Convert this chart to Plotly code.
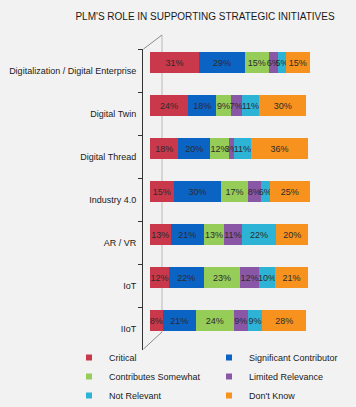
import plotly.graph_objects as go

categories = ["Digitalization / Digital Enterprise", "Digital Twin", "Digital Thread",
              "Industry 4.0", "AR / VR", "IoT", "IIoT"]
series_names = ["Critical", "Significant Contributor", "Contributes Somewhat",
                "Limited Relevance", "Not Relevant", "Don't Know"]
critical = [31, 24, 18, 15, 13, 12, 8]
significant = [29, 18, 20, 30, 21, 22, 21]
contributes = [15, 9, 12, 17, 13, 23, 24]
limited = [6, 7, 3, 8, 11, 12, 9]
not_relevant = [5, 11, 11, 6, 22, 10, 9]
dont_know = [15, 30, 36, 25, 20, 21, 28]
title_text = "PLM'S ROLE IN SUPPORTING STRATEGIC INITIATIVES"

series_values = [critical, significant, contributes, limited, not_relevant, dont_know]
colors = ["#c9384b", "#0b63c4", "#96cc58", "#8a56a6", "#2cb3d6", "#f7921e"]

W, H = 356, 407
T = 49
PH = H - T            # paper height (no bottom/left/right margin)
AX_L, AX_R = 143, 323  # plot-area x in px
AX_B = 350             # plot-area bottom in px


def px_x(p):
    return p / W


def px_y(p):
    return (H - p) / PH


fig = go.Figure()
for name, vals, col in zip(series_names, series_values, colors):
    fig.add_trace(go.Bar(
        y=categories, x=vals, orientation="h", name=name,
        marker=dict(color=col, line=dict(width=0)),
        width=0.49, offset=-0.43,
        text=[f"{v}%" for v in vals], textposition="inside",
        insidetextanchor="middle", textangle=0,
        textfont=dict(family="Liberation Sans, Arial", size=9, color="#2b2b2b"),
        showlegend=False, hoverinfo="x+y+name",
    ))
    fig.add_trace(go.Scatter(
        x=[None], y=[None], mode="markers", name=name,
        marker=dict(symbol="square", size=6, color=col),
        showlegend=True,
    ))

shapes = [
    dict(type="line", xref="paper", yref="paper", x0=px_x(162), x1=px_x(162),
         y0=px_y(35), y1=px_y(332), line=dict(color="#b8b8b8", width=1), layer="below"),
    dict(type="line", xref="paper", yref="paper", x0=px_x(143.5), x1=px_x(162),
         y0=px_y(49), y1=px_y(35), line=dict(color="#8c8c8c", width=1), layer="below"),
    dict(type="line", xref="paper", yref="paper", x0=px_x(143.5), x1=px_x(162),
         y0=px_y(349), y1=px_y(332), line=dict(color="#8c8c8c", width=1), layer="below"),
]

fig.update_layout(
    width=W, height=H,
    margin=dict(l=0, r=0, t=T, b=0, autoexpand=False),
    paper_bgcolor="#f2f2f2", plot_bgcolor="#f2f2f2",
    barmode="stack",
    font=dict(family="Liberation Sans, Arial", color="#1a1a1a", size=9),
    title=dict(text=title_text, x=205 / W, xref="container", xanchor="center",
               y=1 - 16 / H, yref="container", yanchor="middle",
               font=dict(size=10, color="#1a1a1a")),
    xaxis=dict(domain=[AX_L / W, AX_R / W],
               range=[-(150 - AX_L) / 1.58, (AX_R - 150) / 1.58],
               showgrid=False, zeroline=False,
               showticklabels=False, showline=False, fixedrange=True),
    yaxis=dict(domain=[px_y(AX_B), 1], autorange="reversed", type="category",
               showgrid=False, zeroline=False,
               showline=True, linecolor="#333333", linewidth=1,
               ticks="outside", ticklen=4, tickcolor="#333333", tickson="boundaries",
               ticklabelstandoff=4,
               tickfont=dict(size=9, color="#1a1a1a"), fixedrange=True),
    legend=dict(orientation="h", x=px_x(69), xanchor="left", y=px_y(343), yanchor="top",
                entrywidth=95, entrywidthmode="pixels", itemwidth=30,
                font=dict(size=9, color="#1a1a1a"), bgcolor="rgba(0,0,0,0)",
                traceorder="normal"),
    shapes=shapes,
)
fig.update_traces(selector=dict(type="bar"), constraintext="none", cliponaxis=False)

fig.write_html("out.html", config={"displayModeBar": False},
               post_script="document.body.style.margin='0';document.body.style.padding='0';")
